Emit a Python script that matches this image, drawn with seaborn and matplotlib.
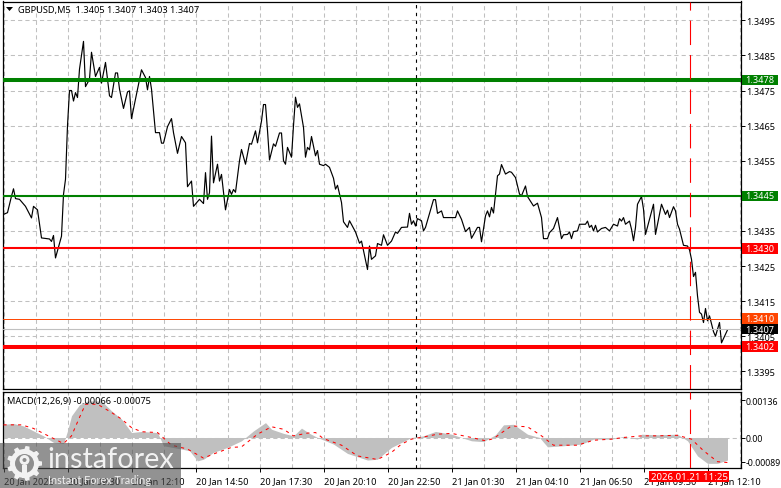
import numpy as np
import pandas as pd
import seaborn as sns
import matplotlib.pyplot as plt
from matplotlib.patches import Rectangle, Circle, Polygon
from matplotlib.transforms import blended_transform_factory, IdentityTransform

# M5 bars, one bar is 2 px wide on the chart
price_bars = [0, 2, 4, 5, 6, 8, 11, 14, 15, 17, 19, 23, 24, 25, 26, 29, 30, 31, 32, 33, 34, 35, 36, 37, 38, 40, 41, 43,
              44, 46, 48, 49, 51, 53, 54, 56, 57, 58, 60, 62, 63, 64, 68, 69, 71, 72, 73, 74, 76, 78, 79, 80, 82, 84,
              85, 87, 89, 91, 92, 94, 95, 98, 100, 101, 102, 103, 104, 105, 107, 108, 109, 111, 113, 114, 115, 116,
              118, 119, 121, 123, 124, 126, 127, 129,
              130, 131, 132, 133, 135, 136, 138, 139, 140, 141, 142, 144, 145, 146, 147, 148, 150, 151, 152, 153, 154,
              156, 157, 158, 160, 161, 163, 165, 166, 167, 169, 170, 172, 173, 176, 178, 179, 182, 183, 184, 186, 187,
              189, 190, 192, 194, 196, 197, 199, 202, 203, 204, 205, 206, 207, 209, 210, 211, 215, 216, 217, 219, 220,
              226, 227, 229, 231, 233, 234, 237, 238, 239, 241, 242, 243, 244, 245, 247, 248, 249, 251, 253, 254, 256,
              258, 259, 261, 262, 265, 267, 269, 270, 272, 273, 275, 277, 279, 280, 282, 283, 284, 285, 287, 288, 291,
              292, 293, 294, 295, 296, 297, 299, 301, 303, 305, 307, 308, 309, 310, 311, 313, 314, 315, 316, 317, 319,
              320, 321, 323, 325, 326, 328, 329, 331, 332, 333, 335, 336, 337, 338, 340, 342, 343, 344, 345, 346, 347,
              348, 349, 350, 351, 352, 353, 355, 356, 358, 359, 362]
close = [1.34397, 1.34402, 1.34449, 1.34470, 1.34442, 1.34440, 1.34420, 1.34387, 1.34420, 1.34410, 1.34330, 1.34327,
         1.34320, 1.34337, 1.34273, 1.34335, 1.34454, 1.34497, 1.34650, 1.34750, 1.34750, 1.34720, 1.34744, 1.34730,
         1.34811, 1.34890, 1.34761, 1.34782, 1.34859, 1.34790, 1.34816, 1.34771, 1.34830, 1.34735, 1.34730, 1.34800,
         1.34800, 1.34754, 1.34699, 1.34746, 1.34749, 1.34670, 1.34782, 1.34809, 1.34787, 1.34752, 1.34790, 1.34754,
         1.34630, 1.34630, 1.34600, 1.34600, 1.34647, 1.34670, 1.34630, 1.34571, 1.34619, 1.34601, 1.34476, 1.34492,
         1.34420, 1.34440, 1.34428, 1.34516, 1.34440, 1.34459, 1.34620, 1.34487, 1.34540, 1.34492, 1.34511, 1.34410,
         1.34468, 1.34454, 1.34468, 1.34460, 1.34550, 1.34582, 1.34540, 1.34599, 1.34597, 1.34635, 1.34601, 1.34663,
         1.34710, 1.34710, 1.34636, 1.34552, 1.34598, 1.34591, 1.34629, 1.34629, 1.34550, 1.34540, 1.34588, 1.34560,
         1.34650, 1.34731, 1.34702, 1.34712, 1.34645, 1.34560, 1.34588, 1.34581, 1.34619, 1.34564, 1.34579, 1.34540,
         1.34536, 1.34540, 1.34531, 1.34500, 1.34469, 1.34480, 1.34431, 1.34376, 1.34360, 1.34379, 1.34347, 1.34315,
         1.34321, 1.34240, 1.34307, 1.34269, 1.34279, 1.34314, 1.34309, 1.34339, 1.34309, 1.34321, 1.34347, 1.34343,
         1.34360, 1.34361, 1.34400, 1.34369, 1.34379, 1.34364, 1.34385, 1.34379, 1.34350, 1.34360, 1.34439, 1.34439,
         1.34400, 1.34407, 1.34388, 1.34388, 1.34407, 1.34383, 1.34348, 1.34360, 1.34329, 1.34360, 1.34360, 1.34319,
         1.34393, 1.34407, 1.34390, 1.34417, 1.34401, 1.34507, 1.34512, 1.34539, 1.34512, 1.34519, 1.34517, 1.34502,
         1.34455, 1.34450, 1.34478, 1.34448, 1.34421, 1.34429, 1.34388, 1.34328, 1.34328, 1.34345, 1.34357, 1.34388,
         1.34328, 1.34339, 1.34340, 1.34347, 1.34328, 1.34348, 1.34350, 1.34369, 1.34369, 1.34378, 1.34360, 1.34366,
         1.34350, 1.34366, 1.34347, 1.34357, 1.34360, 1.34350, 1.34369, 1.34364, 1.34385, 1.34378, 1.34388, 1.34369,
         1.34378, 1.34355, 1.34322, 1.34360, 1.34426, 1.34448, 1.34412, 1.34340, 1.34383, 1.34426, 1.34340, 1.34397,
         1.34426, 1.34397, 1.34409, 1.34388, 1.34419, 1.34407, 1.34369, 1.34355, 1.34309, 1.34307, 1.34296, 1.34269,
         1.34220, 1.34232, 1.34165, 1.34118, 1.34113, 1.34089, 1.34129, 1.34094, 1.34108, 1.34063, 1.34050, 1.34089,
         1.34031, 1.34068]

hist_bars = [0, 5, 10, 15, 20, 25, 30, 32, 34, 38, 42, 49, 54, 59, 64, 69, 77, 80, 89, 93, 97, 100, 105, 112, 119, 125,
             131, 134, 140, 145, 149, 153, 157, 165, 172, 182, 187, 192, 194, 199, 204, 210, 216, 224, 234, 240, 246,
             250, 255, 262, 268, 272, 280, 289, 295, 304, 310, 317, 319, 327, 337, 342, 347, 352, 357, 362]
macd_hist = [48, 51, 42, 24, 6, -18, -22, 24, 79, 119, 133, 133, 97, 67, 18, 22, 18, -30, -42, -48, -85, -79, -54, -36,
             -12, 24, 54, 30, 15, 6, 34, 15, 0, -24, -58, -82, -79, -48, -36, -18, 0, 6, 22, 12, -12, -15, 10, 46, 48,
             12, 0, -34, -30, -24, -6, -6, 4, -6, 12, 10, 12, -12, -67, -94, -94, -82]
signal_bars = [0, 9, 15, 24, 30, 34, 38, 41, 47, 54, 59, 64, 69, 77, 84, 92, 100, 105, 114, 119, 127, 134, 140, 145,
               152, 156, 160, 169, 177, 187, 194, 199, 204, 210, 217, 224, 234, 241, 245, 250, 254, 262, 269, 275,
               287, 295, 304, 310, 319, 327, 337, 344, 350, 357, 362]
macd_signal = [46, 46, 33, 0, -22, 6, 73, 121, 121, 91, 67, 36, 21, 18, -28, -42, -75, -60, -36, -34, 12, 39, 30, 6,
               16, 18, -4, -28, -67, -80, -54, -24, -6, 2, 12, 15, 0, -12, -4, 22, 42, 39, 6, -28, -28, -10, -6, 0, 6,
               6, 8, -6, -48, -88, -91]

price_ticks = [1.3395, 1.3405, 1.3415, 1.3425, 1.3435, 1.3445, 1.3455, 1.3465, 1.3475, 1.3485, 1.3495]
time_tick_bars = [0, 32, 64, 96, 128, 160, 192, 224, 256, 288, 320, 352]
time_labels = ["20 Jan 2026", "20 Jan 09:30", "20 Jan 12:10", "20 Jan 14:50", "20 Jan 17:30", "20 Jan 20:10",
               "20 Jan 22:50", "21 Jan 01:30", "21 Jan 04:10", "21 Jan 06:50", "21 Jan 09:30", "21 Jan 12:10"]
macd_ticks = [-0.00089, 0.0, 0.00136]
macd_tick_labels = ["-0.00089", "0.00", "0.00136"]

W, H = 781, 489
BAR_LEFT, PX_BAR = 3.5, 2
AX_L, AX_R = 2.5, 740.5

sns.set_theme(style="white")
plt.rcParams['font.family'] = ['Noto Sans', 'DejaVu Sans']
plt.rcParams['font.size'] = 6.5
GRID = "#c0c0c0"
GREEN = "#008000"
RED = "#ff0000"
ORANGE = "#ff4500"
DASH = (0, (4, 3))


def px_axes(top, bottom):
    return fig.add_axes([AX_L / W, 1 - bottom / H, (AX_R - AX_L) / W, (bottom - top) / H])


def px_text(x, y, s, **kw):
    return fig.text(x / W, 1 - y / H, s, **kw)


def style_axes(ax):
    for s in ax.spines.values():
        s.set_color("black")
        s.set_linewidth(0.9)
    ax.yaxis.tick_right()
    ax.set_xlim((AX_L - BAR_LEFT) / PX_BAR, (AX_R - BAR_LEFT) / PX_BAR)
    ax.set_xlabel("")
    ax.set_ylabel("")


fig = plt.figure(figsize=(W / 100, H / 100), dpi=100, facecolor="white")
ax = px_axes(2.5, 390)
ax_m = px_axes(392.5, 468.5)

prices = pd.DataFrame({"bar": price_bars, "close": close})
sns.lineplot(data=prices, x="bar", y="close", ax=ax, color="black", lw=0.85, estimator=None, zorder=2)
style_axes(ax)
ax.set_ylim(1.338996, 1.350036)
ax.set_yticks(price_ticks, [f"{t:.4f}" for t in price_ticks])
ax.set_xticks(range(0, 369, 16))
ax.tick_params(axis="x", length=0, labelbottom=False)
ax.tick_params(axis="y", length=3, width=0.7, color="black", pad=1.3, labelsize=6.6, labelcolor="black", right=True)
ax.grid(True, color=GRID, lw=0.75, linestyle=DASH)
ax.set_axisbelow(True)

levels = [(1.3478, GREEN, 2.9), (1.3445, GREEN, 1.5), (1.3430, RED, 1.5), (1.3402, RED, 2.9),
          (1.3410, ORANGE, 0.7), (1.3407, GRID, 0.8)]
lab_tr = blended_transform_factory(fig.transFigure, ax.transData)
for level, color, lw in levels:
    ax.axhline(level, color=color, lw=lw, zorder=3)
    box = "black" if level == 1.3407 else color
    ax.add_patch(Rectangle((742 / W, level - 0.00015), 36 / W, 0.0003, transform=lab_tr, color=box, lw=0,
                           clip_on=False, zorder=5))
    ax.text(760 / W, level, f"{level:.4f}", transform=lab_tr, color="white", fontsize=6.6, ha="center", va="center",
            clip_on=False, zorder=6)

# MACD panel
ax_m.fill_between(hist_bars, np.array(macd_hist) * 1e-5, 0, color=GRID, lw=0, zorder=1.5)
signal = pd.DataFrame({"bar": signal_bars, "value": np.array(macd_signal) * 1e-5})
sns.lineplot(data=signal, x="bar", y="value", ax=ax_m, color=RED, lw=0.75, linestyle=(0, (3, 4)), estimator=None,
             zorder=3)
style_axes(ax_m)
ax_m.set_ylim(-30 / 27500, 46 / 27500)
ax_m.set_yticks(macd_ticks, macd_tick_labels)
ax_m.set_xticks(range(0, 369, 16), minor=True)
ax_m.set_xticks(time_tick_bars, time_labels, ha="left")
ax_m.tick_params(axis="y", length=3, width=0.7, color="black", pad=1, labelsize=6.3, labelcolor="black", right=True)
ax_m.tick_params(axis="x", which="major", length=3, width=0.7, color="black", pad=3, labelsize=6.6, labelcolor="black",
                 bottom=True)
ax_m.tick_params(axis="x", which="minor", length=0)
ax_m.grid(True, axis="x", which="both", color=GRID, lw=0.75, linestyle=DASH)
ax_m.axhline(0, color=GRID, lw=0.75, linestyle=DASH, zorder=1)
ax_m.set_axisbelow(True)

# cursors through both panels
for a in (ax, ax_m):
    a.axvline(206, color="black", lw=0.8, linestyle=(0, (3, 4)), zorder=4)
    a.axvline(343, color=RED, lw=0.8, linestyle=(0, (22, 9)), zorder=4)

# header texts
fig.add_artist(Polygon([[6 / W, 1 - 8 / H], [13 / W, 1 - 8 / H], [9.5 / W, 1 - 12 / H]], transform=fig.transFigure,
                       color="black", lw=0))
px_text(18, 10.5, "GBPUSD,M5  1.3405 1.3407 1.3403 1.3407", fontsize=6.65, color="black", va="center")
px_text(7, 401.5, "MACD(12,26,9) -0.00066 -0.00075", fontsize=6.65, color="black", va="center", zorder=8)

# red time label over the axis
fig.add_artist(Rectangle((649 / W, 1 - 482.5 / H), 80 / W, 10.5 / H, transform=fig.transFigure, color=RED, lw=0,
                         zorder=8))
px_text(689, 477.5, "2026.01.21 11:25", color="white", fontsize=6.9, ha="center", va="center", zorder=9)

# watermark
fig.add_artist(Rectangle((0, 0), 181 / W, 45 / H, transform=fig.transFigure, color="#505050", alpha=0.62, lw=0,
                         zorder=10))
gx, gy = 24.5, H - 464.5
px = IdentityTransform()
LOGO = "#f2f2f2"
LOGO_BG = "#8e8e8e"
for ang in np.arange(0, 360, 40):
    c, s = np.cos(np.radians(ang)), np.sin(np.radians(ang))
    fig.add_artist(Polygon([[gx + r * c - t * s, gy + r * s + t * c] for r, t in [(12, -3), (17.5, -2), (17.5, 2), (12, 3)]],
                           transform=px, color=LOGO, lw=0, zorder=11))
fig.add_artist(Circle((gx, gy), 14.5, transform=px, color=LOGO, lw=0, zorder=11))
fig.add_artist(Circle((gx, gy), 9.5, transform=px, color=LOGO_BG, lw=0, zorder=12))
fig.add_artist(Rectangle((gx - 2.5, gy - 14.5), 5, 13, transform=px, color=LOGO, lw=0, zorder=13))
fig.add_artist(Circle((gx, gy + 3.5), 5, transform=px, color=LOGO, lw=0, zorder=13))
fig.add_artist(Circle((gx, gy + 3.5), 2, transform=px, color=LOGO_BG, lw=0, zorder=14))
px_text(47, 460, "instaforex", family="Lato", fontsize=20.8, color="#f2f2f2", va="center", zorder=12)
px_text(48, 480.5, "Instant Forex Trading", family="Lato", fontsize=7.8, color="#f0f0f0", va="center", zorder=12)

fig.savefig("out.png", dpi=100, facecolor="white")
